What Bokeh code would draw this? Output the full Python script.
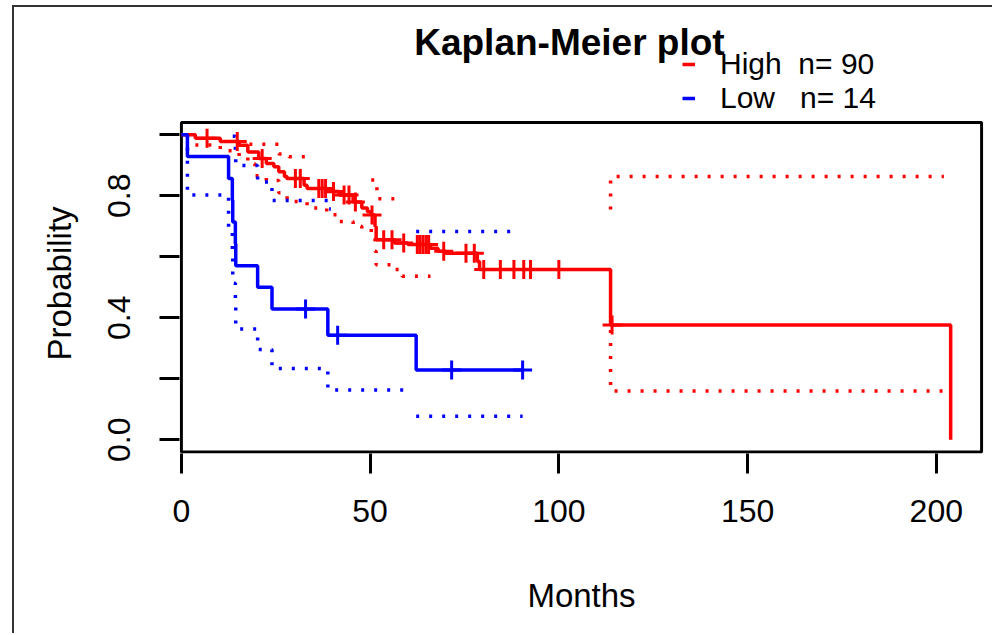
import numpy as np
from bokeh.plotting import figure
from bokeh.models import (Range1d, FixedTicker, Legend, LegendItem, Label, Title,
                          PrintfTickFormatter)
from bokeh.embed import file_html
from bokeh.resources import INLINE

# ---------------- data ----------------
title_text = "Kaplan-Meier plot"
x_label = "Months"
y_label = "Probability"
group_names = ["High\u00a0\u00a0n=\u00a090", "Low\u00a0\u00a0\u00a0n=\u00a014"]

# High group (n = 90): step times (months) and survival after each step
high_time = [0, 3.7, 10.3, 15.3, 17.6, 20.5, 22.5, 24.5, 25.8, 27.3, 28.0, 32.5, 33.3,
             38.5, 41.8, 45.5, 47.8, 49.3, 50.3, 51.3, 51.6, 56.5, 60.0, 66.0, 68.0,
             70.0, 78.4, 79.0, 113.7, 203.8]
high_surv = [1.000, 0.989, 0.978, 0.966, 0.944, 0.922, 0.906, 0.895, 0.879, 0.863, 0.857,
             0.835, 0.824, 0.814, 0.803, 0.780, 0.760, 0.748, 0.737, 0.700, 0.656, 0.645,
             0.640, 0.628, 0.618, 0.612, 0.585, 0.558, 0.376, 0.000]
high_censor = [6.8, 14.8, 21.4, 30.2, 31.5, 36.4, 37.3, 38.2, 40.3, 43.1, 44.4, 46.1,
               50.5, 53.6, 55.8, 58.9, 62.5, 63.2, 64.0, 64.8, 65.5, 69.5, 75.4, 77.6,
               80.1, 84.5, 88.1, 90.7, 92.5, 100.0, 114.1]

# Low group (n = 14)
low_time = [0, 1.6, 12.5, 13.5, 13.6, 14.3, 14.4, 20.2, 24.0, 38.8, 62.2, 90.4]
low_surv = [1.000, 0.929, 0.857, 0.786, 0.714, 0.643, 0.571, 0.500, 0.429, 0.343, 0.229, 0.229]
low_censor = [32.9, 41.4, 71.6, 90.4]

# confidence limits (visible parts), as step segments: times / values
high_upper_t = [[18.0, 25.8, 28.5, 33.3], [50.3, 51.3, 51.8, 56.5], [113.7, 113.7, 202.0]]
high_upper_v = [[0.969, 0.937, 0.928, 0.928], [0.852, 0.830, 0.790, 0.790], [0.755, 0.863, 0.863]]
high_lower_t = [[3.7, 10.3, 15.3, 17.6, 19.5, 22.5, 25.8, 28.0, 33.3, 38.5, 41.8, 45.5, 47.8,
                 50.3, 51.3, 51.6, 56.5, 58.5, 66.0], [113.7, 113.7, 202.0]]
high_lower_v = [[0.967, 0.948, 0.930, 0.905, 0.866, 0.850, 0.810, 0.781, 0.760, 0.738, 0.716,
                 0.700, 0.692, 0.660, 0.618, 0.574, 0.558, 0.536, 0.536], [0.360, 0.160, 0.160]]
low_upper_t = [[13.6, 14.3, 14.4, 20.2, 24.0, 38.8, 39.6], [62.2, 88.0]]
low_upper_v = [[0.995, 0.950, 0.899, 0.845, 0.785, 0.757, 0.757], [0.683, 0.683]]
low_lower_t = [[1.6, 1.6, 12.5, 13.5, 13.6, 14.3, 14.4, 20.2, 24.0, 38.8, 60.0], [62.2, 90.4]]
low_lower_v = [[1.000, 0.803, 0.692, 0.598, 0.513, 0.435, 0.363, 0.296, 0.234, 0.163, 0.163],
               [0.077, 0.077]]

x_ticks = [0, 50, 100, 150, 200]
y_ticks_labeled = [0.0, 0.4, 0.8]
y_ticks_unlabeled = [0.2, 0.6, 1.0]

# plot box limits (axis ranges of the drawn box)
box_x = (0, 212)
box_y = (-0.04, 1.04)

RED = "#FF0000"
BLUE = "#0000FF"
FONT = "Liberation Sans"


def stairs(t, v):
    xs, ys = [t[0]], [v[0]]
    for i in range(1, len(t)):
        xs += [t[i], t[i]]
        ys += [v[i - 1], v[i]]
    return xs, ys


def surv_at(times, surv, tt):
    idx = np.searchsorted(np.asarray(times), np.asarray(tt), side="right") - 1
    return [float(s) for s in np.asarray(surv)[idx]]


# the frame reaches up to the top so that title and legend (drawn inside it) are not clipped
p = figure(width=980, height=628, output_backend="svg", toolbar_location=None,
           title_location=None,
           x_range=Range1d(-0.5, 212.5), y_range=Range1d(-0.045, 1.4175),
           min_border_left=165, min_border_right=11, min_border_top=0,
           min_border_bottom=182)
p.grid.visible = False
p.background_fill_color = "white"
p.border_fill_color = "white"
p.outline_line_color = None
p.styles = {"border-left": "2px solid #333333", "border-top": "2px solid #333333",
            "margin-left": "12px", "margin-top": "5px"}

# plot box
p.quad(left=[box_x[0]], right=[box_x[1]], bottom=[box_y[0]], top=[box_y[1]],
       fill_alpha=0, line_color="black", line_width=3)

# confidence limits (dotted)
for ts, vs, col in [(high_upper_t, high_upper_v, RED), (high_lower_t, high_lower_v, RED),
                    (low_upper_t, low_upper_v, BLUE), (low_lower_t, low_lower_v, BLUE)]:
    xs, ys = [], []
    for t, v in zip(ts, vs):
        a, b = stairs(t, v)
        xs.append(a)
        ys.append(b)
    p.multi_line(xs, ys, line_color=col, line_width=3.5, line_dash="3 10")

# survival curves
r_high = p.step(high_time, high_surv, mode="after", line_color=RED, line_width=3.5)
r_low = p.step(low_time, low_surv, mode="after", line_color=BLUE, line_width=3.5)

# censor marks
p.scatter(high_censor, surv_at(high_time, high_surv, high_censor), marker="cross",
          size=19, line_color=RED, line_width=3)
p.scatter(low_censor, surv_at(low_time, low_surv, low_censor), marker="cross",
          size=19, line_color=BLUE, line_width=3)

# axes
for ax in (p.xaxis[0], p.yaxis[0]):
    ax.axis_line_color = None
    ax.major_tick_out = 20
    ax.major_tick_in = 0
    ax.major_tick_line_width = 3
    ax.major_tick_line_color = "black"
    ax.major_label_text_font = FONT
    ax.major_label_text_font_size = "32px"
    ax.major_label_text_color = "black"
    ax.axis_label_text_font = FONT
    ax.axis_label_text_font_size = "33px"
    ax.axis_label_text_font_style = "normal"
    ax.axis_label_text_color = "black"

p.xaxis.ticker = FixedTicker(ticks=x_ticks)
p.xaxis.minor_tick_line_color = None
p.xaxis.major_label_standoff = 26
p.xaxis.axis_label = x_label
p.xaxis.axis_label_standoff = 52

p.yaxis.ticker = FixedTicker(ticks=y_ticks_labeled, minor_ticks=y_ticks_unlabeled)
p.yaxis.formatter = PrintfTickFormatter(format="%.1f")
p.yaxis.minor_tick_out = 20
p.yaxis.minor_tick_in = 0
p.yaxis.minor_tick_line_width = 3
p.yaxis.minor_tick_line_color = "black"
p.yaxis.major_label_orientation = "vertical"
p.yaxis.major_label_standoff = 29

# y axis title (kept beside the box rather than centred on the tall frame)
p.add_layout(Title(text=y_label, align="left", offset=93, standoff=51,
                   vertical_align="top",
                   text_font=FONT, text_font_size="33px", text_font_style="normal",
                   text_color="black"), "left")

# main title
p.add_layout(Label(x=102.8, y=1.303, text=title_text, text_align="center",
                   text_baseline="middle", text_font=FONT, text_font_size="37px",
                   text_font_style="bold", text_color="black"))

# legend
legend = Legend(items=[LegendItem(label=group_names[0], renderers=[r_high]),
                       LegendItem(label=group_names[1], renderers=[r_low])],
                location=(503, 338), orientation="vertical",
                border_line_color=None, background_fill_alpha=0,
                padding=0, margin=0, spacing=0, glyph_width=13, glyph_height=28,
                label_standoff=25, label_text_font=FONT, label_text_font_size="30px",
                label_text_color="black", label_height=28)
p.add_layout(legend)

open("out.html", "w").write(file_html(p, INLINE))
